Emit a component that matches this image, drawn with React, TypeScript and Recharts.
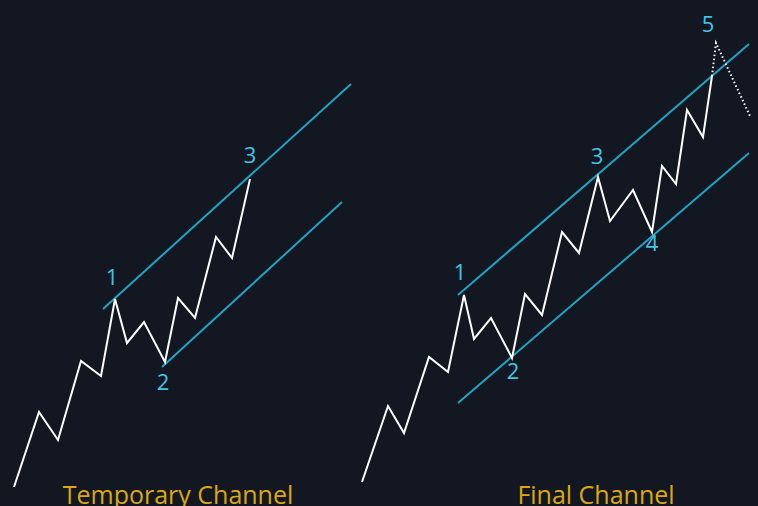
import React from "react";
import { ComposedChart, Line, Scatter, XAxis, YAxis } from "recharts";

// Temporary channel (left)
const leftWaveTime = [14, 39, 58, 81, 101, 115, 127, 144, 165, 178, 195, 216, 232, 250];
const leftWavePrice = [19, 94, 66, 145, 130, 207, 163, 184, 144, 208, 188, 269, 248, 327];
const leftUpperTime = [103, 351];
const leftUpperPrice = [197, 422];
const leftLowerTime = [162, 342];
const leftLowerPrice = [139, 304];

// Final channel (right)
const rightWaveTime = [362, 388, 404, 429, 448, 464, 474, 491, 512, 525, 542, 562, 579, 598, 610, 633, 652, 662, 676, 687, 703, 712];
const rightWavePrice = [24, 100, 73, 149, 134, 211, 167, 188, 148, 212, 191, 274, 253, 329, 285, 316, 274, 340, 322, 396, 369, 430];
const projTime = [712, 716, 750];
const projPrice = [430, 463, 390];
const rightUpperTime = [458, 749];
const rightUpperPrice = [211, 462];
const rightLowerTime = [458, 749];
const rightLowerPrice = [103, 353];

// Wave labels
const waveLabels = ["1", "2", "3", "1", "2", "3", "4", "5"];
const waveLabelTime = [112, 163, 250, 460, 513, 597, 652, 708];
const waveLabelPrice = [221, 116, 343, 226, 127, 342, 255, 474];

// Titles
const titles = ["Temporary Channel", "Final Channel"];
const titleTime = [178, 596];
const titlePrice = [2, 2];

const zip = (xs: number[], ys: number[]) => xs.map((x, i) => ({ x, y: ys[i] }));

const BG = "#131722";
const CYAN = "#1ea5c3";
const LABEL = "#3ec6e6";
const GOLD = "#dca80c";
const FONT = "'Open Sans', sans-serif";

const labelData = waveLabels.map((t, i) => ({ x: waveLabelTime[i], y: waveLabelPrice[i], t }));
const titleData = titles.map((t, i) => ({ x: titleTime[i], y: titlePrice[i], t }));

const LabelShape = (props: any) => (
  <text x={props.cx} y={props.cy} textAnchor="middle" fill={LABEL} fontSize={22} fontFamily={FONT}>
    {props.payload.t}
  </text>
);
const TitleShape = (props: any) => (
  <text x={props.cx} y={props.cy} textAnchor="middle" fill={GOLD} fontSize={25} fontFamily={FONT}>
    {props.payload.t}
  </text>
);

const lineProps = { type: "linear" as const, strokeWidth: 2, dot: false, activeDot: false, isAnimationActive: false };

export default function App() {
  return (
    <div style={{ position: "absolute", left: 0, top: 0, width: 758, height: 506, background: BG, overflow: "hidden" }}>
      <ComposedChart width={758} height={506} margin={{ top: 0, right: 0, bottom: 0, left: 0 }}>
        <XAxis type="number" dataKey="x" domain={[0, 758]} hide allowDataOverflow />
        <YAxis type="number" dataKey="y" domain={[0, 506]} hide allowDataOverflow />
        <Line data={zip(leftUpperTime, leftUpperPrice)} dataKey="y" stroke={CYAN} {...lineProps} />
        <Line data={zip(leftLowerTime, leftLowerPrice)} dataKey="y" stroke={CYAN} {...lineProps} />
        <Line data={zip(rightUpperTime, rightUpperPrice)} dataKey="y" stroke={CYAN} {...lineProps} />
        <Line data={zip(rightLowerTime, rightLowerPrice)} dataKey="y" stroke={CYAN} {...lineProps} />
        <Line data={zip(leftWaveTime, leftWavePrice)} dataKey="y" stroke="#ffffff" {...lineProps} />
        <Line data={zip(rightWaveTime, rightWavePrice)} dataKey="y" stroke="#ffffff" {...lineProps} />
        <Line data={zip(projTime, projPrice)} dataKey="y" stroke="#ffffff" strokeDasharray="1.5 2.5" {...lineProps} />
        <Scatter data={labelData} dataKey="y" shape={LabelShape} isAnimationActive={false} />
        <Scatter data={titleData} dataKey="y" shape={TitleShape} isAnimationActive={false} />
      </ComposedChart>
    </div>
  );
}
